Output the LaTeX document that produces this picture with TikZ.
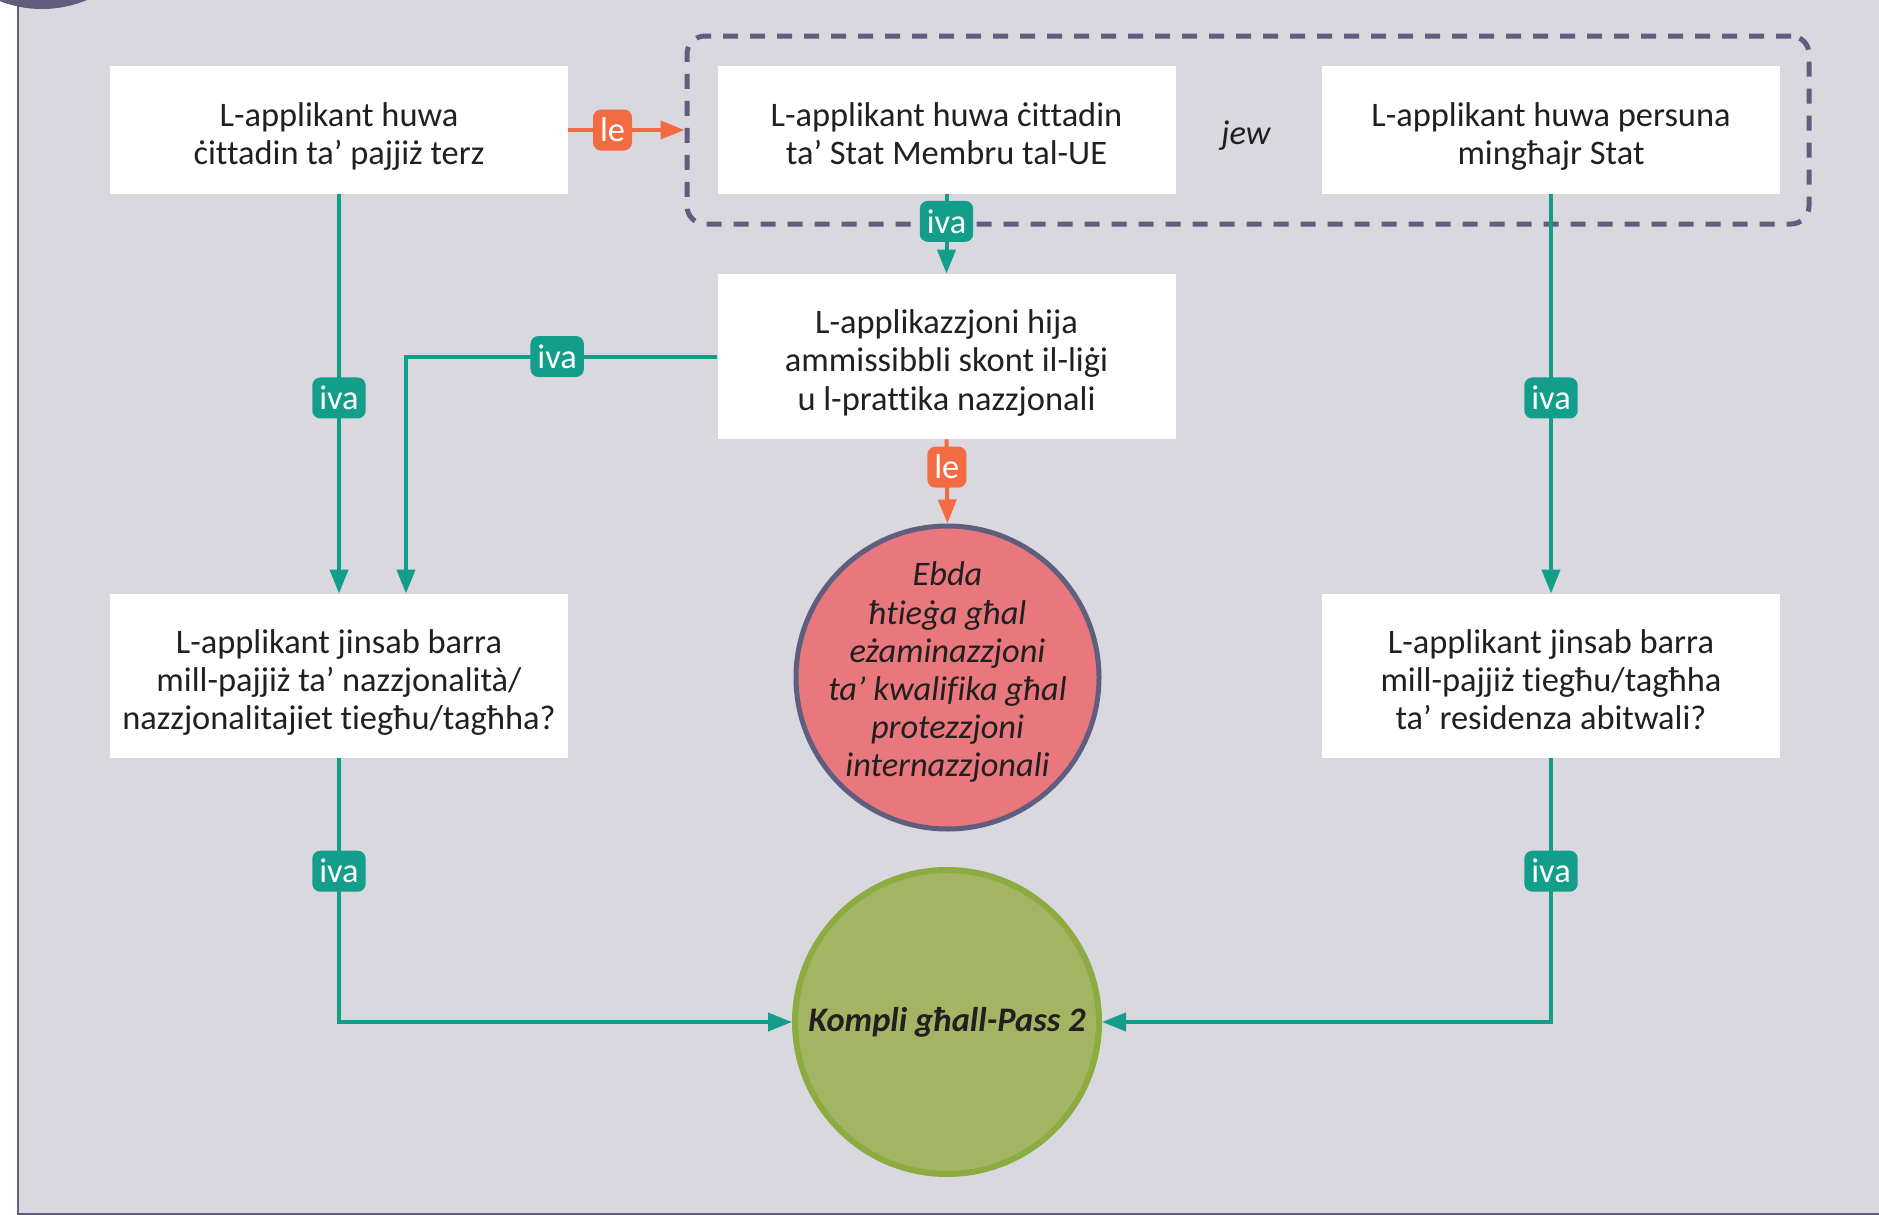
\documentclass[tikz,border=0pt]{standalone}
\usepackage{fontspec}
\setmainfont{Carlito}[Ligatures={NoCommon}]
\usetikzlibrary{arrows.meta,calc}
\definecolor{bgpanel}{HTML}{D9D8DF}
\definecolor{darkline}{HTML}{5F5E7E}
\definecolor{tealc}{HTML}{139E8B}
\definecolor{orangec}{HTML}{F26B43}
\definecolor{redfill}{HTML}{E8787D}
\definecolor{greenfill}{HTML}{A3B562}
\definecolor{greenline}{HTML}{8CAB40}
\definecolor{textc}{HTML}{231F20}
\newcommand{\bodysize}{\fontsize{17.2pt}{19.1pt}\selectfont}
\newcommand{\tp}{\rule{0pt}{20.4pt}}
\newcommand{\bs}{\rule[-5pt]{0pt}{5pt}}
\newcommand{\bt}{\rule[-8pt]{0pt}{8pt}}
\begin{document}
\begin{tikzpicture}[x=0.5pt,y=-0.5pt,
  box/.style={font=\bodysize, text=textc, fill=white, minimum width=229pt, align=center, inner sep=0pt},
  lbl/.style={fill=tealc, text=white, rounded corners=4pt, inner xsep=3.5pt, inner ysep=0pt, minimum height=20.5pt, font=\bodysize},
  olbl/.style={lbl, fill=orangec},
  tarrow/.style={draw=tealc, line width=2pt, -{Triangle[length=12pt,width=9pt]}},
  oarrow/.style={draw=orangec, line width=2pt, -{Triangle[length=12pt,width=9pt]}}
]
\useasboundingbox (0,0) rectangle (1879,1215);
\begin{scope}
\clip (0,0) rectangle (1879,1215);
\fill[bgpanel] (17,0) rectangle (1879,1215);
\draw[darkline, line width=1pt] (17.5,0) -- (17.5,1213.5) -- (1879,1213.5);
\fill[darkline] (42,-108) circle[radius=117];
\end{scope}

% dashed group
\node[draw=darkline, line width=2.5pt, dash pattern=on 7.5pt off 6pt, rounded corners=9pt,
      minimum width=561pt, minimum height=94pt, inner sep=0pt] (grp) at (1248,130) {};

% boxes
\node[box, minimum height=64pt] (b1) at (339,130) {\tp L-applikant huwa\\ċittadin ta’ pajjiż terz\bs};
\node[box, minimum height=64pt] (b2) at (946.5,130) {\tp L-applikant huwa ċittadin\\ta’ Stat Membru tal-UE\bs};
\node[box, minimum height=64pt] (b3) at (1551,130) {\tp L-applikant huwa persuna\\mingħajr Stat\bs};
\node[font=\bodysize\itshape, text=textc] (jew) at (1246,136) {jew};
\node[box, minimum height=82.5pt] (b4) at (946.5,356.5) {\tp L-applikazzjoni hija\\ammissibbli skont il-liġi\\u l-prattika nazzjonali\bs};
\node[box, minimum height=82pt] (b5) at (339,676) {\tp L-applikant jinsab barra\\mill-pajjiż ta’ nazzjonalità/\\nazzjonalitajiet tiegħu/tagħha?\bs};
\node[box, minimum height=82pt] (b6) at (1551,676) {\tp L-applikant jinsab barra\\mill-pajjiż tiegħu/tagħha\\ta’ residenza abitwali?\bs};

% circles
\node[circle, draw=darkline, line width=2.5pt, fill=redfill, minimum size=151.5pt, inner sep=-25pt,
      align=center, font=\bodysize\itshape, text=textc] (red) at (947.5,677.5)
      {Ebda\\ħtieġa għal\\eżaminazzjoni\\ta’ kwalifika għal\\protezzjoni\\internazzjonali\bt};
\node[circle, draw=greenline, line width=3pt, fill=greenfill, minimum size=152pt, inner sep=-10pt,
      font=\bodysize\bfseries\itshape, text=textc] (grn) at (947,1022) {Kompli għall-Pass 2};

% connectors
\draw[oarrow] (b1.east) -- (grp.west) node[olbl, pos=0.38] {le};
\draw[tarrow] (b1) -- (b5) node[lbl, pos=0.51] {iva};
\draw[tarrow] (b4.west) -| ($(b5.north)+(67,0)$) node[lbl, pos=0.257] {iva};
\draw[tarrow] (b2.south) -- (b4.north) node[lbl, pos=0.34] {iva};
\draw[oarrow] (b4.south) -- (red.north) node[olbl, pos=0.33] {le};
\draw[tarrow] (b3) -- (b6) node[lbl, pos=0.51] {iva};
\draw[tarrow] (b5.south) |- (grn.west) node[lbl, pos=0.214] {iva};
\draw[tarrow] (b6.south) |- (grn.east) node[lbl, pos=0.214] {iva};
\end{tikzpicture}
\end{document}
